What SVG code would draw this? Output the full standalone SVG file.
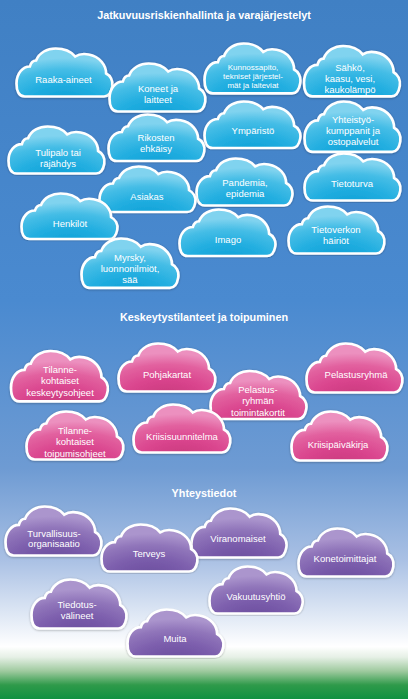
<svg xmlns="http://www.w3.org/2000/svg" xmlns:xlink="http://www.w3.org/1999/xlink" width="408" height="699" viewBox="0 0 408 699">
<defs>
<linearGradient id="sky" x1="0" y1="0" x2="0" y2="1">
<stop offset="0" stop-color="#4080c4"/>
<stop offset="0.43" stop-color="#4a8ad0"/>
<stop offset="0.67" stop-color="#6e9bd3"/>
<stop offset="0.80" stop-color="#a9c0e4"/>
<stop offset="0.89" stop-color="#e6edf7"/>
<stop offset="0.925" stop-color="#ffffff"/>
<stop offset="0.94" stop-color="#e6f0e6"/>
<stop offset="0.96" stop-color="#9fca9f"/>
<stop offset="0.98" stop-color="#2f9a4a"/>
<stop offset="1" stop-color="#0f9140"/>
</linearGradient>
<radialGradient id="gB" cx="0.5" cy="1.15" r="0.95" gradientUnits="objectBoundingBox">
<stop offset="0" stop-color="#0c9ed5"/>
<stop offset="0.45" stop-color="#22aee0"/>
<stop offset="0.75" stop-color="#45bde6"/>
<stop offset="1" stop-color="#80d3ef"/>
</radialGradient>
<radialGradient id="gP" cx="0.5" cy="1.15" r="0.95" gradientUnits="objectBoundingBox">
<stop offset="0" stop-color="#c6387a"/>
<stop offset="0.45" stop-color="#da458e"/>
<stop offset="0.75" stop-color="#e2619f"/>
<stop offset="1" stop-color="#ec90bf"/>
</radialGradient>
<radialGradient id="gV" cx="0.5" cy="1.15" r="0.95" gradientUnits="objectBoundingBox">
<stop offset="0" stop-color="#684b9b"/>
<stop offset="0.45" stop-color="#7b5dac"/>
<stop offset="0.75" stop-color="#9075ba"/>
<stop offset="1" stop-color="#ab95cd"/>
</radialGradient>
<filter id="sh" x="-10%" y="-10%" width="120%" height="130%">
<feDropShadow dx="0" dy="0.6" stdDeviation="0.8" flood-color="#000" flood-opacity="0.3"/>
</filter>
<path id="cloud" d="M8,48 C2,48 0,42 0,35 C0,25 6,18 13,18 C14,14 16,12 19,12 C22,4 30,0 38,0 C46,0 53,3 57,8 C60,6 65,5 70,6 C81,8 87,17 87,25 C91,27 94,32 93,38 C92,44 90,48 85,48 Z"/>
<style>
.c{stroke:#ffffff;stroke-width:2.6;filter:url(#sh)}
.b{fill:url(#gB)}
.p{fill:url(#gP)}
.v{fill:url(#gV)}
text{font-family:"Liberation Sans",Arial,sans-serif;fill:#ffffff;text-anchor:middle}
.t{font-size:9.5px}
.s{font-size:8px}
.h{font-size:10.8px;font-weight:bold}
</style>
</defs>
<rect x="0" y="0" width="408" height="699" fill="url(#sky)"/>

<text class="h" x="204" y="19">Jatkuvuusriskienhallinta ja varajärjestelyt</text>
<text class="h" x="204" y="321">Keskeytystilanteet ja toipuminen</text>
<text class="h" x="204" y="497">Yhteystiedot</text>

<g id="n1"><use xlink:href="#cloud" class="c b" transform="translate(16.5,48.5) scale(1.03,1)"/><text class="t" x="63.5" y="82.5">Raaka-aineet</text></g>
<g id="n3"><use xlink:href="#cloud" class="c b" transform="translate(204.5,43.5) scale(1.03,1.04)"/><text class="s" x="253" y="70">Kunnossapito,</text><text class="s" x="253" y="79">tekniset järjestel-</text><text class="s" x="253" y="88">mät ja laiteviat</text></g>
<g id="n4"><use xlink:href="#cloud" class="c b" transform="translate(304,46) scale(1.03,1.05)"/><text class="t" x="350" y="70.5">Sähkö,</text><text class="t" x="350" y="81.8">kaasu, vesi,</text><text class="t" x="350" y="93">kaukolämpö</text></g>
<g id="n2"><use xlink:href="#cloud" class="c b" transform="translate(109.5,63.5) scale(1.03,1)"/><text class="t" x="158" y="91.5">Koneet ja</text><text class="t" x="158" y="102.5">laitteet</text></g>
<g id="n5"><use xlink:href="#cloud" class="c b" transform="translate(204.5,101.5) scale(1.03,0.97)"/><text class="t" x="253" y="133.5">Ympäristö</text></g>
<g id="n6"><use xlink:href="#cloud" class="c b" transform="translate(304.5,101.5) scale(1.03,1.05)"/><text class="t" x="353" y="122.5">Yhteistyö-</text><text class="t" x="353" y="133.8">kumppanit ja</text><text class="t" x="353" y="145">ostopalvelut</text></g>
<g id="n7"><use xlink:href="#cloud" class="c b" transform="translate(108.5,114.5) scale(1.03,0.97)"/><text class="t" x="156" y="140.5">Rikosten</text><text class="t" x="156" y="152">ehkäisy</text></g>
<g id="n8"><use xlink:href="#cloud" class="c b" transform="translate(8.5,126.5) scale(1.03,0.98)"/><text class="t" x="58" y="155.5">Tulipalo tai</text><text class="t" x="58" y="166.5">räjähdys</text></g>
<g id="n10"><use xlink:href="#cloud" class="c b" transform="translate(196.5,158.5) scale(1.03,0.98)"/><text class="t" x="245" y="185.5">Pandemia,</text><text class="t" x="245" y="196.5">epidemia</text></g>
<g id="n9"><use xlink:href="#cloud" class="c b" transform="translate(99.5,166.5) scale(1.03,0.95)"/><text class="t" x="147" y="199.5">Asiakas</text></g>
<g id="n11"><use xlink:href="#cloud" class="c b" transform="translate(304.5,153.5) scale(1.03,0.98)"/><text class="t" x="352" y="186.5">Tietoturva</text></g>
<g id="n12"><use xlink:href="#cloud" class="c b" transform="translate(21.5,193.5) scale(1.03,0.95)"/><text class="t" x="70" y="226.5">Henkilöt</text></g>
<g id="n14"><use xlink:href="#cloud" class="c b" transform="translate(288.5,206.5) scale(1.03,0.98)"/><text class="t" x="336" y="232.5">Tietoverkon</text><text class="t" x="336" y="243.5">häiriöt</text></g>
<g id="n13"><use xlink:href="#cloud" class="c b" transform="translate(179.5,209.5) scale(1.03,0.97)"/><text class="t" x="228" y="242.5">Imago</text></g>
<g id="n15"><use xlink:href="#cloud" class="c b" transform="translate(81.5,238.5) scale(1.04,1.03)"/><text class="t" x="130" y="260.5">Myrsky,</text><text class="t" x="130" y="271.5">luonnonilmiöt,</text><text class="t" x="130" y="282.5">sää</text></g>

<g id="n16"><use xlink:href="#cloud" class="c p" transform="translate(11,351) scale(1.04,1.05)"/><text class="t" x="60" y="372.5">Tilanne-</text><text class="t" x="60" y="384">kohtaiset</text><text class="t" x="60" y="395.5">keskeytysohjeet</text></g>
<g id="n17"><use xlink:href="#cloud" class="c p" transform="translate(118.5,343.5) scale(1.04,1)"/><text class="t" x="167" y="377.5">Pohjakartat</text></g>
<g id="n19"><use xlink:href="#cloud" class="c p" transform="translate(306.5,343.5) scale(1.03,1.02)"/><text class="t" x="356" y="377.5">Pelastusryhmä</text></g>
<g id="n18"><use xlink:href="#cloud" class="c p" transform="translate(210.5,371) scale(1.03,1)"/><text class="t" x="258" y="392.5">Pelastus-</text><text class="t" x="258" y="404">ryhmän</text><text class="t" x="258" y="415.5">toimintakortit</text></g>
<g id="n21"><use xlink:href="#cloud" class="c p" transform="translate(133.5,404.5) scale(1.04,1)"/><text class="t" x="182" y="439.5">Kriisisuunnitelma</text></g>
<g id="n20"><use xlink:href="#cloud" class="c p" transform="translate(26.5,411.5) scale(1.04,1)"/><text class="t" x="75" y="433.5">Tilanne-</text><text class="t" x="75" y="445">kohtaiset</text><text class="t" x="75" y="456.5">toipumisohjeet</text></g>
<g id="n22"><use xlink:href="#cloud" class="c p" transform="translate(291.5,411.5) scale(1.03,1.02)"/><text class="t" x="338" y="447.5">Kriisipäiväkirja</text></g>

<g id="n23"><use xlink:href="#cloud" class="c v" transform="translate(5.5,506.5) scale(1.03,1.02)"/><text class="t" x="54" y="536.5">Turvallisuus-</text><text class="t" x="54" y="547">organisaatio</text></g>
<g id="n25"><use xlink:href="#cloud" class="c v" transform="translate(191.5,508.5) scale(1.02,1.02)"/><text class="t" x="238" y="541.5">Viranomaiset</text></g>
<g id="n24"><use xlink:href="#cloud" class="c v" transform="translate(101.5,524.5) scale(1.03,0.98)"/><text class="t" x="149" y="556.5">Terveys</text></g>
<g id="n26"><use xlink:href="#cloud" class="c v" transform="translate(298.5,528.5) scale(1.02,1)"/><text class="t" x="345" y="561.5">Konetoimittajat</text></g>
<g id="n28"><use xlink:href="#cloud" class="c v" transform="translate(209.5,566.5) scale(1,0.98)"/><text class="t" x="256" y="599.5">Vakuutusyhtiö</text></g>
<g id="n27"><use xlink:href="#cloud" class="c v" transform="translate(31.5,579.5) scale(1.02,1.02)"/><text class="t" x="77" y="607.5">Tiedotus-</text><text class="t" x="77" y="618.5">välineet</text></g>
<g id="n29"><use xlink:href="#cloud" class="c v" transform="translate(127.5,609.5) scale(1.03,0.98)"/><text class="t" x="175" y="641.5">Muita</text></g>
</svg>
